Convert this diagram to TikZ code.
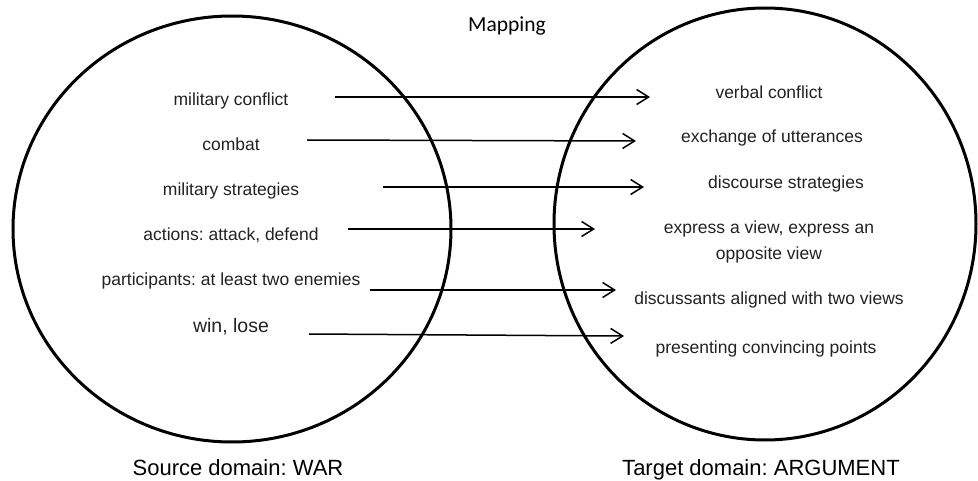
\documentclass[tikz,border=0pt]{standalone}
\usepackage{fontspec}
\setmainfont{Liberation Sans}
\newfontfamily\mapfont{Carlito}
\usetikzlibrary{arrows.meta}
\frenchspacing
\definecolor{txt}{HTML}{222222}
\tikzset{
  domaincircle/.style={draw=black, line width=3pt},
  itemtext/.style={anchor=base, text=txt, inner sep=0pt, font=\fontsize{17.5}{26}\selectfont},
  bigitemtext/.style={anchor=base, text=txt, inner sep=0pt, font=\fontsize{19.5}{24}\selectfont},
  domainlabel/.style={anchor=base, text=black, inner sep=0pt, font=\fontsize{22}{26}\selectfont},
  maparrow/.style={line width=1.5pt, -{Straight Barb[length=12pt,width=15pt,line width=1.5pt]}},
}
\begin{document}
\begin{tikzpicture}[x=1pt,y=-1pt]
\useasboundingbox (0,0) rectangle (978,481);
% circles
\draw[domaincircle] (232,229) ellipse [x radius=219, y radius=213];
\draw[domaincircle] (765,224) ellipse [x radius=211, y radius=216];
% title
\node[anchor=base, inner sep=0pt, font=\mapfont\fontsize{21.5}{26}\selectfont] (map) at (507,32) {Mapping};
% source items
\node[itemtext] (s1) at (231,106) {military conflict};
\node[itemtext] (s2) at (231,151) {combat};
\node[itemtext] (s3) at (231,196) {military strategies};
\node[itemtext] (s4) at (231,241) {actions: attack, defend};
\node[itemtext] (s5) at (231,286) {participants: at least two enemies};
\node[bigitemtext] (s6) at (231,332) {win, lose};
% target items
\node[itemtext] (t1) at (769,99) {verbal conflict};
\node[itemtext] (t2) at (772,143) {exchange of utterances};
\node[itemtext] (t3) at (786,189) {discourse strategies};
\node[itemtext, anchor=center, align=center] (t4) at (769,242) {express a view, express an\\opposite view};
\node[itemtext] (t5) at (769,305) {discussants aligned with two views};
\node[itemtext] (t6) at (766,353) {presenting convincing points};
% domain labels
\node[domainlabel] (src) at (238,475) {Source domain: WAR};
\node[domainlabel] (tgt) at (761,475) {Target domain: ARGUMENT};
% arrow endpoints
\coordinate (a1) at (335,97);  \coordinate (b1) at (650,97);
\coordinate (a2) at (307,140); \coordinate (b2) at (636,141);
\coordinate (a3) at (383,187); \coordinate (b3) at (644,187);
\coordinate (a4) at (348,229); \coordinate (b4) at (595,229);
\coordinate (a5) at (370,290); \coordinate (b5) at (616,290);
\coordinate (a6) at (309,334); \coordinate (b6) at (624,336);
\foreach \i in {1,...,6} \draw[maparrow] (a\i) -- (b\i);
\end{tikzpicture}
\end{document}
